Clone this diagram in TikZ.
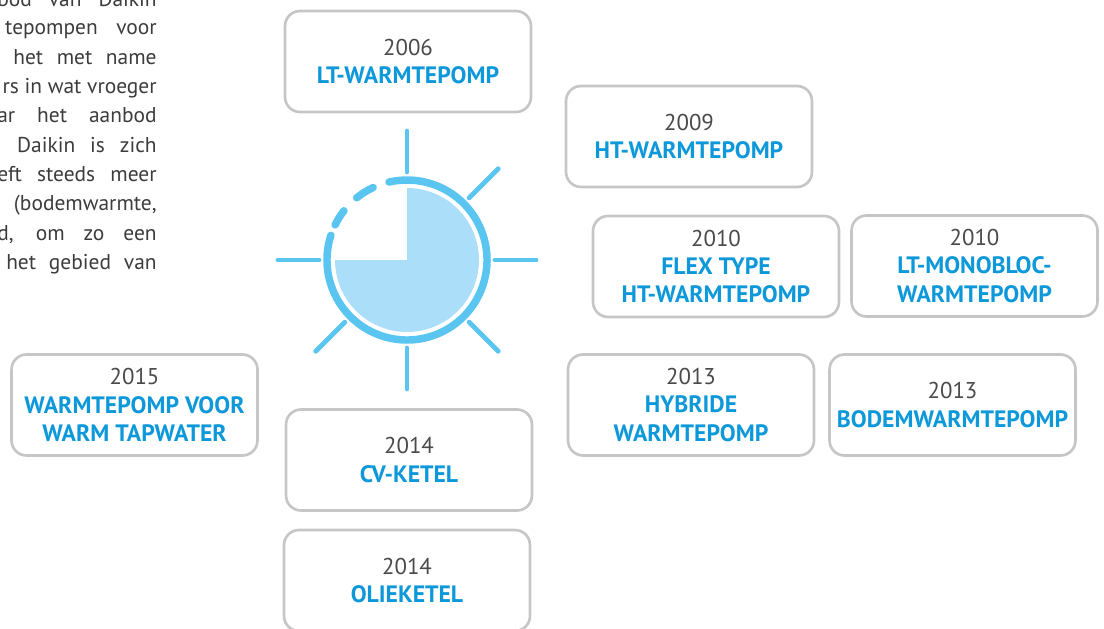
\documentclass[tikz,border=0pt]{standalone}
\usepackage{fontspec}
\setmainfont{PT Sans}
\definecolor{ringblue}{HTML}{5BC5F1}
\definecolor{fillblue}{HTML}{ABDEF8}
\definecolor{lblblue}{HTML}{0D98DA}
\definecolor{yeargray}{HTML}{4A4A4A}
\definecolor{boxgray}{HTML}{C6C6C6}
\definecolor{textgray}{HTML}{3C3C3C}
\newcommand{\yr}[1]{\textcolor{yeargray}{\fontsize{13}{16.2}\selectfont #1}}
\newcommand{\lbl}[1]{\textcolor{lblblue}{\bfseries #1}}
\tikzset{
	yearbox/.style={draw=boxgray, line width=1.5pt, rounded corners=0.3cm, fill=white,
		minimum width=4.92cm, minimum height=2.02cm, inner sep=0pt, align=center,
		font=\fontsize{13.5}{16.2}\selectfont},
	ring/.style={ringblue, line width=4.25pt, line cap=round},
	ray/.style={ringblue, line width=2.8pt, line cap=round},
	para/.style={anchor=base east, inner sep=0pt, text=textgray, font=\fontsize{12.2}{16}\selectfont}
}
\begin{document}
\begin{tikzpicture}[x=0.02cm, y=-0.02cm]
		\useasboundingbox (0,0) rectangle (1104,628);
		\clip (0,0) rectangle (1104,628);
		
		% text column, cut off at the left
		\node[para] (p1) at (157,6.5) {\makebox[90.7pt][s]{bod van Daikin}};
		\node[para] (p2) at (157,35) {\makebox[86.2pt][s]{tepompen voor}};
		\node[para] (p3) at (157,64.3) {\makebox[81.6pt][s]{het met name}};
		\node[para] (p4) at (157,93.6) {rs in wat vroeger};
		\node[para] (p5) at (157,122.9) {\makebox[90.7pt][s]{ar het aanbod}};
		\node[para] (p6) at (157,152.2) {\makebox[79.4pt][s]{Daikin is zich}};
		\node[para] (p7) at (157,181.5) {\makebox[90.7pt][s]{eft steeds meer}};
		\node[para] (p8) at (157,210.8) {(bodemwarmte,};
		\node[para] (p9) at (157,240.1) {\makebox[90.7pt][s]{d, om zo een}};
		\node[para] (p10) at (157,269.4) {\makebox[85.6pt][s]{het gebied van}};
		
		% clock
		\begin{scope}[shift={(407,260)}, yscale=-1]
			\fill[fillblue] (0,0) -- (180:72) arc[start angle=180, end angle=450, radius=72] -- cycle;
			\draw[ring] (162:80) arc[start angle=162, end angle=463, radius=80];
			\draw[ring] (142:80) arc[start angle=142, end angle=154, radius=80];
			\draw[ring] (115:80) arc[start angle=115, end angle=129, radius=80];
			\foreach \a in {0,45,90,180,225,270,315}
			{
				\draw[ray] (\a:88)--(\a:129);
			}
		\end{scope}
		
		% boxes
		\node[yearbox] (lt) at (408,61.5) {\yr{2006}\\\lbl{LT-WARMTEPOMP}};
		\node[yearbox] (ht) at (689,136.5) {\yr{2009}\\\lbl{HT-WARMTEPOMP}};
		\node[yearbox] (flex) at (716,266.5) {\yr{2010}\\\lbl{FLEX TYPE}\\\lbl{HT-WARMTEPOMP}};
		\node[yearbox] (mono) at (974.5,266) {\yr{2010}\\\lbl{LT-MONOBLOC-}\\\lbl{WARMTEPOMP}};
		\node[yearbox] (hyb) at (691,405) {\yr{2013}\\\lbl{HYBRIDE}\\\lbl{WARMTEPOMP}};
		\node[yearbox] (bodem) at (952.5,405) {\yr{2013}\\\lbl{BODEMWARMTEPOMP}};
		\node[yearbox] (tap) at (134.5,405) {\yr{2015}\\\lbl{WARMTEPOMP VOOR}\\\lbl{WARM TAPWATER}};
		\node[yearbox] (cv) at (409,460) {\yr{2014}\\\lbl{CV-KETEL}};
		\node[yearbox] (olie) at (407,580.5) {\yr{2014}\\\lbl{OLIEKETEL}};
\end{tikzpicture}
\end{document}
